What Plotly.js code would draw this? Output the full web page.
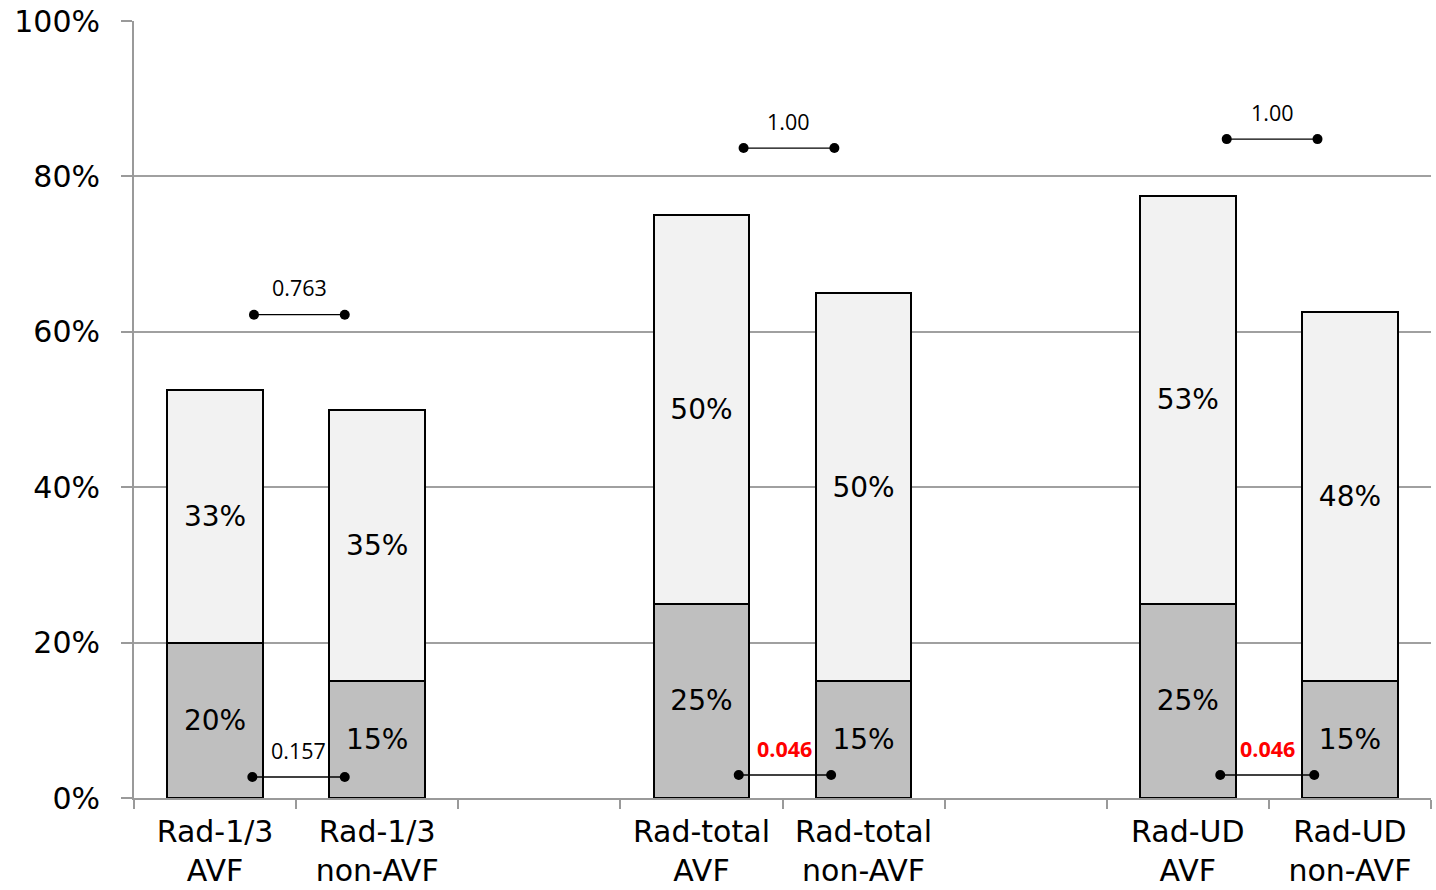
<!DOCTYPE html>
<html>
<head>
<meta charset="utf-8">
<script src="https://cdn.plot.ly/plotly-3.0.1.min.js"></script>
<style>html,body{margin:0;padding:0;background:#fff;}#chart{width:1436px;height:890px;}</style>
</head>
<body>
<div id="chart"></div>
<script>
// Category slots (two empty slots separate the three groups)
const slots = [0, 1, 3, 4, 6, 7];
const categories = ['Rad-1/3<br>AVF', 'Rad-1/3<br>non-AVF', 'Rad-total<br>AVF', 'Rad-total<br>non-AVF', 'Rad-UD<br>AVF', 'Rad-UD<br>non-AVF'];
const bottomValues = [20, 15, 25, 15, 25, 15];
const topValues = [32.5, 35, 50, 50, 52.5, 47.5];
const bottomLabels = ['20%', '15%', '25%', '15%', '25%', '15%'];
const topLabels = ['33%', '35%', '50%', '50%', '53%', '48%'];

// p-value comparison brackets
const pText = ['0.763', '0.157', '1.00', '0.046', '1.00', '0.046'];
const pSignificant = [false, false, false, true, false, true];
const pXStart = [0.24, 0.23, 3.26, 3.23, 6.24, 6.20];
const pXEnd = [0.80, 0.80, 3.82, 3.80, 6.80, 6.78];
const pY = [62.2, 2.7, 83.65, 2.96, 84.8, 2.96];

const barLine = {color: '#000000', width: 2};
const labelFont = {family: 'DejaVu Sans, Verdana, sans-serif', size: 28, color: '#000'};
const traces = [
  {
    type: 'bar', x: slots, y: bottomValues, text: bottomLabels,
    textposition: 'inside', insidetextanchor: 'middle', constraintext: 'none',
    textfont: labelFont,
    marker: {color: '#bfbfbf', line: barLine}, width: 0.59, hoverinfo: 'skip'
  },
  {
    type: 'bar', x: slots, y: topValues, text: topLabels,
    textposition: 'inside', insidetextanchor: 'middle', constraintext: 'none',
    textfont: labelFont,
    marker: {color: '#f2f2f2', line: barLine}, width: 0.59, hoverinfo: 'skip'
  }
];

const annotations = [];
for (let i = 0; i < pText.length; i++) {
  traces.push({
    type: 'scatter', mode: 'lines+markers',
    x: [pXStart[i], pXEnd[i]], y: [pY[i], pY[i]],
    line: {color: '#000', width: 1.3},
    marker: {color: '#000', size: 10},
    hoverinfo: 'skip', cliponaxis: false
  });
  annotations.push({
    x: (pXStart[i] + pXEnd[i]) / 2, y: pY[i], xref: 'x', yref: 'y',
    text: pSignificant[i] ? '<b>' + pText[i] + '</b>' : pText[i],
    showarrow: false, yanchor: 'middle', yshift: 27,
    font: {family: 'Open Sans, Lato, sans-serif', size: 21.5, color: pSignificant[i] ? '#ff0000' : '#000'}
  });
}

const boundaries = [];
for (let b = -0.5; b <= 7.5; b += 1) boundaries.push(b);

const layout = {
  width: 1436, height: 890,
  margin: {l: 134, r: 5, t: 21, b: 92, pad: 0},
  paper_bgcolor: '#fff', plot_bgcolor: '#fff',
  barmode: 'stack', showlegend: false,
  xaxis: {
    range: [-0.5, 7.5], tickmode: 'array', tickvals: slots, ticktext: categories,
    ticks: '', showgrid: false, zeroline: false,
    showline: true, linecolor: '#9a9a9a', linewidth: 2,
    tickfont: {family: 'DejaVu Sans, Verdana, sans-serif', size: 30, color: '#000'},
    ticklabelstandoff: 6,
    minor: {tickmode: 'array', tickvals: boundaries, ticks: 'outside', ticklen: 9, tickwidth: 2, tickcolor: '#9a9a9a', showgrid: false}
  },
  yaxis: {
    range: [0, 100], dtick: 20, tick0: 0, ticksuffix: '%',
    showgrid: true, gridcolor: '#a0a0a0', gridwidth: 2, zeroline: false,
    showline: true, linecolor: '#9a9a9a', linewidth: 2,
    ticks: 'outside', ticklen: 11, tickwidth: 2, tickcolor: '#9a9a9a',
    tickfont: {family: 'DejaVu Sans, Verdana, sans-serif', size: 30, color: '#000'},
    ticklabelstandoff: 15
  },
  annotations: annotations
};

Plotly.newPlot('chart', traces, layout, {displayModeBar: false, staticPlot: true});
</script>
</body>
</html>
